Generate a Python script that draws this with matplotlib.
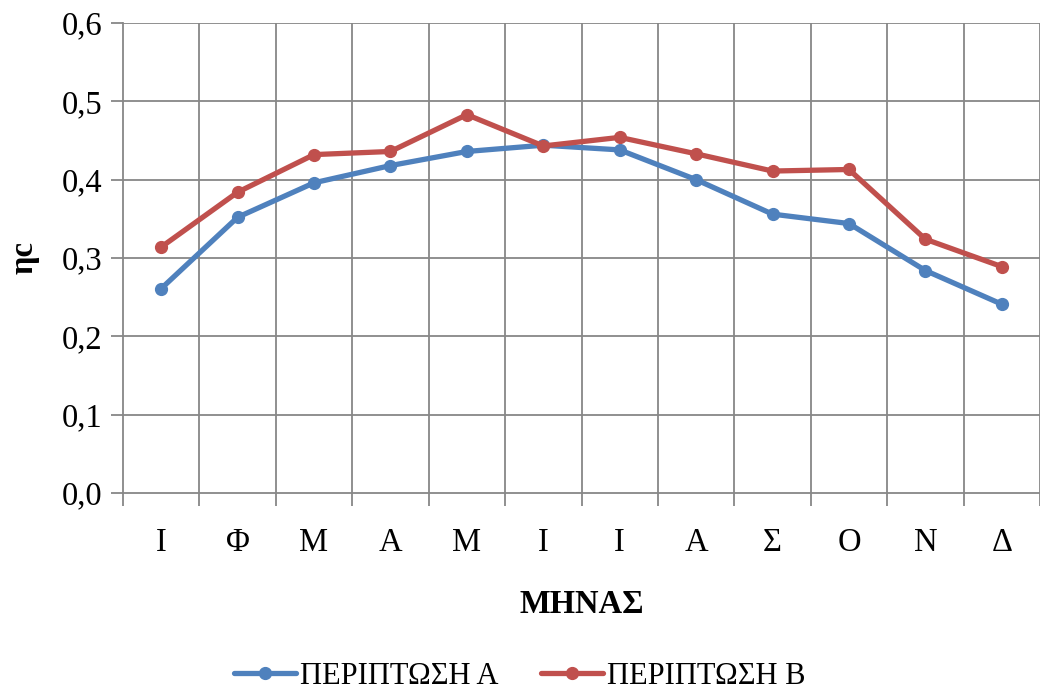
import matplotlib
matplotlib.use("Agg")
import matplotlib.pyplot as plt

months = ["Ι", "Φ", "Μ", "Α", "Μ", "Ι", "Ι", "Α", "Σ", "Ο", "Ν", "Δ"]
case_a = [0.261, 0.352, 0.396, 0.418, 0.436, 0.444, 0.438, 0.400, 0.356, 0.344, 0.284, 0.241]
case_b = [0.314, 0.384, 0.432, 0.436, 0.483, 0.443, 0.454, 0.433, 0.411, 0.413, 0.324, 0.289]
y_ticks = [0.0, 0.1, 0.2, 0.3, 0.4, 0.5, 0.6]

plt.rcParams["font.family"] = ["Liberation Serif", "DejaVu Serif"]
grid_col = "#878787"
fs = 23.5

fig = plt.figure(figsize=(10.4, 6.91), dpi=100)
ax = fig.add_axes([123 / 1040, 1 - 493 / 691, 1 - 123 / 1040, 470 / 691])

x = list(range(len(months)))
ax.plot(x, case_a, color="#4F81BD", lw=3.8, marker="o", ms=8.5,
        solid_capstyle="round", label="ΠΕΡΙΠΤΩΣΗ Α", clip_on=False, zorder=3)
ax.plot(x, case_b, color="#C0504D", lw=3.8, marker="o", ms=8.5,
        solid_capstyle="round", label="ΠΕΡΙΠΤΩΣΗ Β", clip_on=False, zorder=3)

cat_w = 76.9
ax.set_xlim(-0.5, -0.5 + (1040 - 123) / cat_w)
ax.set_ylim(0, 0.6)

# gridlines at category boundaries
bounds = [i - 0.5 for i in range(len(months) + 1)]
for b in bounds[1:]:
    ax.axvline(b, color=grid_col, lw=1.3, zorder=1)
for yv in y_ticks[1:]:
    ax.axhline(yv, color=grid_col, lw=1.3, zorder=1)

ax.set_xticks(bounds)
ax.set_xticklabels([])
ax.set_xticks(x, minor=True)
ax.set_xticklabels(months, minor=True, fontsize=fs)
ax.tick_params(axis="x", which="major", length=9, width=1.3, color=grid_col, direction="out")
ax.tick_params(axis="x", which="minor", length=0, pad=25)

ax.set_yticks(y_ticks)
ax.set_yticklabels([f"{v:.1f}".replace(".", ",") for v in y_ticks], fontsize=fs)
ax.tick_params(axis="y", length=9, width=1.3, color=grid_col, pad=6)

for side in ["top", "right"]:
    ax.spines[side].set_visible(False)
for side in ["left", "bottom"]:
    ax.spines[side].set_color(grid_col)
    ax.spines[side].set_linewidth(1.3)

ax.set_xlabel("ΜΗΝΑΣ", fontsize=fs, fontweight="bold", labelpad=22)
ax.set_ylabel("ηc", fontsize=fs, fontweight="bold", labelpad=16)

fig.legend(loc="lower center", bbox_to_anchor=(0.5, -0.04), ncol=2, frameon=False,
           fontsize=fs - 1.5, handlelength=2.0, handletextpad=0.15, columnspacing=1.4)

fig.savefig("out.png", dpi=100)
